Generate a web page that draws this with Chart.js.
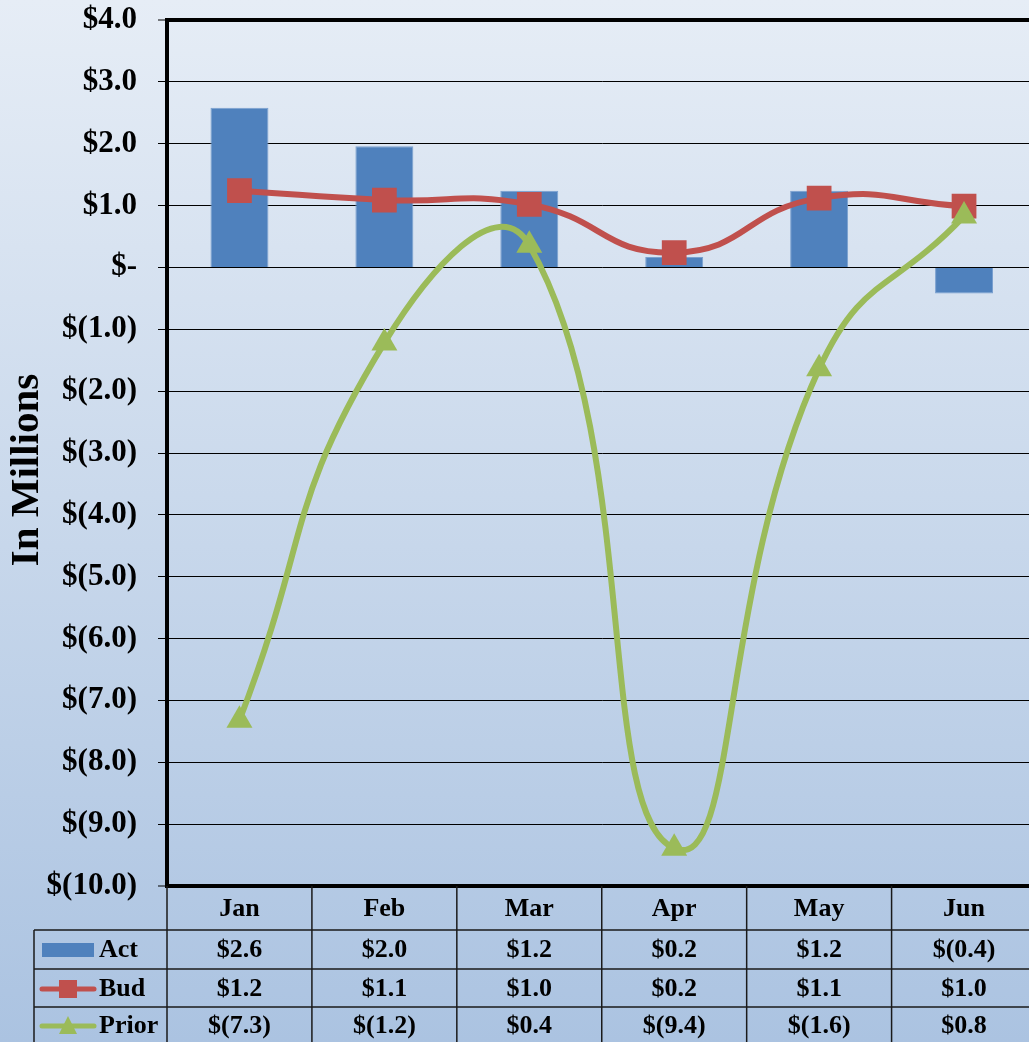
<!DOCTYPE html>
<html>
<head>
<meta charset="utf-8">
<script src="https://cdn.jsdelivr.net/npm/chart.js@4/dist/chart.umd.min.js"></script>
<style>
  html, body { margin: 0; padding: 0; overflow: hidden; background: #c9d8ec; }
  #wrap { width: 1054px; height: 1042px; }
</style>
</head>
<body>
<div id="wrap"><canvas id="grafico" width="1054" height="1042"></canvas></div>
<script>
// ===== DADOS =====
const meses = ['Jan', 'Feb', 'Mar', 'Apr', 'May', 'Jun'];
const act   = [2.58, 1.96, 1.24, 0.17, 1.24, -0.42];
const bud   = [1.24, 1.09, 1.02, 0.24, 1.12, 0.99];
const prior = [-7.32, -1.22, 0.36, -9.39, -1.64, 0.83];
const yMin = -10, yMax = 4, yStep = 1;

const AZUL = '#4f81bd', VERMELHO = '#c0504d', VERDE = '#9bbb59';
const FONTE = '"Liberation Serif", "Times New Roman", serif';

function formatMi(v) {
  if (Math.abs(v) < 1e-9) return '$-';
  if (v < 0) return '$(' + Math.abs(v).toFixed(1) + ')';
  return '$' + v.toFixed(1);
}

// ===== FUNDO EM GRADIENTE =====
const fundo = {
  id: 'fundo',
  beforeDraw(chart) {
    const ctx = chart.ctx;
    const g = ctx.createLinearGradient(0, 0, 0, chart.height);
    g.addColorStop(0, '#e6edf6');
    g.addColorStop(1, '#abc3e1');
    ctx.save();
    ctx.fillStyle = g;
    ctx.fillRect(0, 0, chart.width, chart.height);
    ctx.restore();
  }
};

// ===== TABELA + TITULO =====
const tabela = {
  id: 'tabela',
  afterDraw(chart) {
    const ctx = chart.ctx;
    const x = chart.scales.x;
    const area = chart.chartArea;
    const passo = x.getPixelForValue(1) - x.getPixelForValue(0);
    const topo = area.bottom;
    const linhas = [topo + 44, topo + 83, topo + 121];
    const fim = chart.height;
    const esq = 34;

    ctx.save();
    // titulo do eixo
    ctx.translate(27, 470);
    ctx.rotate(-Math.PI / 2);
    ctx.font = 'bold 41px ' + FONTE;
    ctx.fillStyle = '#000';
    ctx.textAlign = 'center';
    ctx.textBaseline = 'middle';
    ctx.fillText('In Millions', 0, 0);
    ctx.restore();

    ctx.save();
    ctx.strokeStyle = '#1a1a1a';
    ctx.lineWidth = 1.5;
    // linhas horizontais
    linhas.forEach(y => {
      ctx.beginPath();
      ctx.moveTo(esq, y);
      ctx.lineTo(area.right, y);
      ctx.stroke();
    });
    // linhas verticais
    for (let i = 0; i <= meses.length; i++) {
      const xx = x.getPixelForValue(i) - passo / 2;
      ctx.beginPath();
      ctx.moveTo(xx, topo);
      ctx.lineTo(xx, fim);
      ctx.stroke();
    }
    ctx.beginPath();
    ctx.moveTo(esq, linhas[0]);
    ctx.lineTo(esq, fim);
    ctx.stroke();

    // textos
    ctx.fillStyle = '#000';
    ctx.font = 'bold 26px ' + FONTE;
    ctx.textAlign = 'center';
    ctx.textBaseline = 'middle';
    const centros = [topo + 23, linhas[0] + 20, linhas[1] + 20, linhas[2] + 19];
    meses.forEach((m, i) => {
      const cx = x.getPixelForValue(i);
      ctx.fillText(m, cx, centros[0]);
      ctx.fillText(formatMi(act[i]), cx, centros[1]);
      ctx.fillText(formatMi(bud[i]), cx, centros[2]);
      ctx.fillText(formatMi(prior[i]), cx, centros[3]);
    });

    // legenda
    ctx.textAlign = 'left';
    ctx.fillText('Act', 99, centros[1]);
    ctx.fillText('Bud', 99, centros[2]);
    ctx.fillText('Prior', 99, centros[3]);

    ctx.fillStyle = AZUL;
    ctx.fillRect(42, centros[1] - 7, 52, 14);

    ctx.lineCap = 'round';
    ctx.lineWidth = 5;
    ctx.strokeStyle = VERMELHO;
    ctx.beginPath();
    ctx.moveTo(42, centros[2]);
    ctx.lineTo(94, centros[2]);
    ctx.stroke();
    ctx.fillStyle = VERMELHO;
    ctx.fillRect(59, centros[2] - 9, 18, 18);

    ctx.strokeStyle = VERDE;
    ctx.beginPath();
    ctx.moveTo(42, centros[3]);
    ctx.lineTo(94, centros[3]);
    ctx.stroke();
    ctx.fillStyle = VERDE;
    ctx.beginPath();
    ctx.moveTo(68, centros[3] - 10);
    ctx.lineTo(77, centros[3] + 8);
    ctx.lineTo(59, centros[3] + 8);
    ctx.closePath();
    ctx.fill();
    ctx.restore();
  }
};

// ===== GRAFICO =====
new Chart(document.getElementById('grafico'), {
  type: 'bar',
  data: {
    labels: meses,
    datasets: [
      {
        label: 'Prior',
        type: 'line',
        data: prior,
        borderColor: VERDE,
        backgroundColor: VERDE,
        borderWidth: 6,
        pointStyle: 'triangle',
        pointRadius: 15,
        pointHoverRadius: 15,
        pointBorderWidth: 0,
        tension: 0.5,
        order: 1
      },
      {
        label: 'Bud',
        type: 'line',
        data: bud,
        borderColor: VERMELHO,
        backgroundColor: VERMELHO,
        borderWidth: 6,
        pointStyle: 'rect',
        pointRadius: 17.5,
        pointHoverRadius: 17.5,
        pointBorderWidth: 0,
        tension: 0.5,
        order: 2
      },
      {
        label: 'Act',
        data: act,
        backgroundColor: AZUL,
        borderColor: '#7aa0cf',
        borderWidth: 1,
        categoryPercentage: 1,
        barPercentage: 0.4,
        order: 3
      }
    ]
  },
  options: {
    responsive: false,
    animation: false,
    devicePixelRatio: 1,
    layout: { padding: { left: 0, top: 20, right: 3, bottom: 156 } },
    plugins: {
      legend: { display: false },
      tooltip: { enabled: false }
    },
    scales: {
      x: {
        display: false,
        offset: true
      },
      y: {
        min: yMin,
        max: yMax,
        afterFit: s => { s.width = 167; s.paddingTop = 0; s.paddingBottom = 0; },
        border: { display: true, color: '#000', width: 4 },
        grid: {
          color: '#000',
          lineWidth: c => (c.tick && (c.tick.value === yMax || c.tick.value === yMin)) ? 4 : 1,
          tickLength: 9,
          tickColor: '#000',
          tickWidth: 1
        },
        ticks: {
          stepSize: yStep,
          padding: 21,
          color: '#000',
          font: { family: FONTE, size: 31, weight: 'bold' },
          callback: v => formatMi(v)
        }
      }
    }
  },
  plugins: [fundo, tabela]
});
</script>
</body>
</html>
